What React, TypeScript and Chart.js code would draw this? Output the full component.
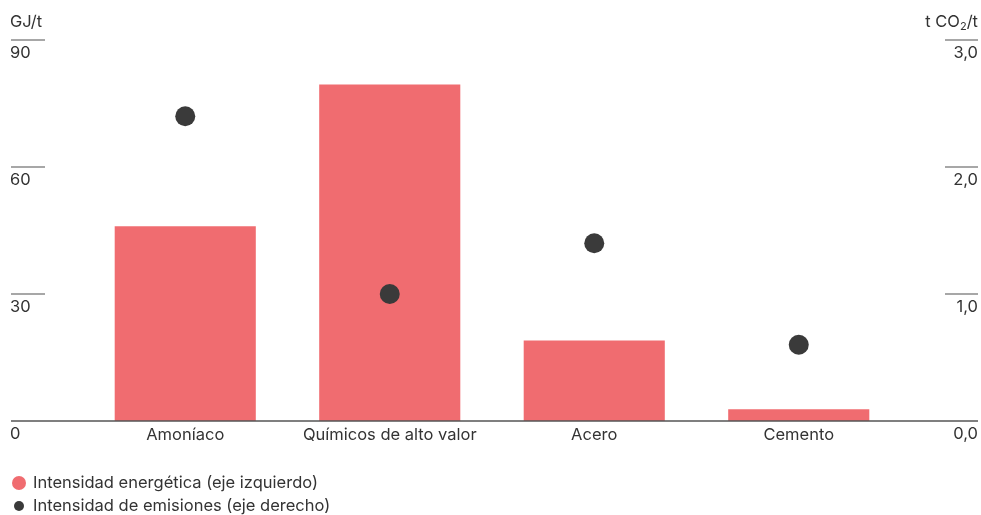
import React, { useEffect, useRef } from "react";
import { Chart, registerables } from "chart.js";

Chart.register(...registerables);

const categories = ["Amoníaco", "Químicos de alto valor", "Acero", "Cemento"];
const energyIntensity = [46, 79.5, 19, 2.8];
const emissionIntensity = [2.4, 1.0, 1.4, 0.6];
const leftTicks = [0, 30, 60, 90];
const rightTicks = [0, 1, 2, 3];
const leftTitle = "GJ/t";
const legendLabels = ["Intensidad energética (eje izquierdo)", "Intensidad de emisiones (eje derecho)"];

const BAR_COLOR = "#F06C70";
const DOT_COLOR = "#3A3A3A";
const TEXT = "#333333";
const FONT = "Inter, 'Noto Sans', sans-serif";
const FS = 16.5;

const fmtRight = (v: number) => v.toFixed(1).replace(".", ",");

const decorPlugin = {
  id: "decor",
  afterDraw(chart: any) {
    const ctx = chart.ctx as CanvasRenderingContext2D;
    const yL = chart.scales.y;
    const yR = chart.scales.y2;
    const xS = chart.scales.x;
    const W = chart.width;
    const left = 11;
    const right = W - 3;
    ctx.save();
    ctx.font = `${FS}px ${FONT}`;
    ctx.fillStyle = TEXT;
    ctx.textBaseline = "middle";
    leftTicks.forEach((t) => {
      const py = yL.getPixelForValue(t);
      if (t !== 0) {
        ctx.strokeStyle = "#8a8a8a";
        ctx.lineWidth = 1.5;
        ctx.beginPath();
        ctx.moveTo(left, py);
        ctx.lineTo(left + 34, py);
        ctx.stroke();
      }
      ctx.textAlign = "left";
      ctx.fillText(String(t), left - 1, py + 13);
    });
    rightTicks.forEach((t) => {
      const py = yR.getPixelForValue(t);
      if (t !== 0) {
        ctx.strokeStyle = "#8a8a8a";
        ctx.lineWidth = 1.5;
        ctx.beginPath();
        ctx.moveTo(right - 33, py);
        ctx.lineTo(right, py);
        ctx.stroke();
      }
      ctx.textAlign = "right";
      ctx.fillText(fmtRight(t), right, py + 13);
    });
    const by = yL.getPixelForValue(0);
    ctx.strokeStyle = "#555555";
    ctx.lineWidth = 1.5;
    ctx.beginPath();
    ctx.moveTo(left, by);
    ctx.lineTo(right, by);
    ctx.stroke();
    ctx.textAlign = "center";
    categories.forEach((c, i) => {
      ctx.fillText(c, xS.getPixelForValue(i), by + 14);
    });
    const ty = yL.getPixelForValue(90) - 18;
    ctx.textAlign = "left";
    ctx.fillText(leftTitle, left - 1, ty);
    const p1 = "t CO";
    const p3 = "/t";
    const wa = ctx.measureText(p1).width;
    const wc = ctx.measureText(p3).width;
    ctx.font = `11px ${FONT}`;
    const wb = ctx.measureText("2").width;
    const x0 = right - (wa + wb + wc);
    ctx.font = `${FS}px ${FONT}`;
    ctx.fillText(p1, x0, ty);
    ctx.font = `11px ${FONT}`;
    ctx.fillText("2", x0 + wa, ty + 5);
    ctx.font = `${FS}px ${FONT}`;
    ctx.fillText(p3, x0 + wa + wb, ty);
    const ly1 = by + 62;
    const ly2 = by + 85;
    ctx.fillStyle = BAR_COLOR;
    ctx.beginPath();
    ctx.arc(19, ly1, 7, 0, Math.PI * 2);
    ctx.fill();
    ctx.fillStyle = DOT_COLOR;
    ctx.beginPath();
    ctx.arc(19, ly2, 5, 0, Math.PI * 2);
    ctx.fill();
    ctx.fillStyle = TEXT;
    ctx.fillText(legendLabels[0], 33, ly1);
    ctx.fillText(legendLabels[1], 33, ly2);
    ctx.restore();
  },
};

export default function App() {
  const ref = useRef<HTMLCanvasElement>(null);
  useEffect(() => {
    document.body.style.margin = "0";
    const canvas = ref.current!;
    const chart = new Chart(canvas, {
      type: "bar",
      data: {
        labels: categories,
        datasets: [
          {
            type: "line",
            label: legendLabels[1],
            data: emissionIntensity,
            yAxisID: "y2",
            showLine: false,
            pointRadius: 10,
            pointHoverRadius: 10,
            pointBackgroundColor: DOT_COLOR,
            pointBorderWidth: 0,
            borderColor: DOT_COLOR,
            order: 0,
          } as any,
          {
            type: "bar",
            label: legendLabels[0],
            data: energyIntensity,
            yAxisID: "y",
            backgroundColor: BAR_COLOR,
            categoryPercentage: 1,
            barPercentage: 0.69,
            order: 1,
          },
        ],
      },
      options: {
        animation: false,
        responsive: false,
        maintainAspectRatio: false,
        layout: { padding: { left: 83, right: 80, top: 40, bottom: 94 } },
        plugins: { legend: { display: false }, tooltip: { enabled: false } },
        scales: {
          x: { display: false },
          y: { display: false, min: 0, max: 90 },
          y2: { display: false, min: 0, max: 3, position: "right" },
        },
      },
      plugins: [decorPlugin],
    });
    return () => chart.destroy();
  }, []);
  return <canvas ref={ref} width={981} height={515} style={{ display: "block" }} />;
}
